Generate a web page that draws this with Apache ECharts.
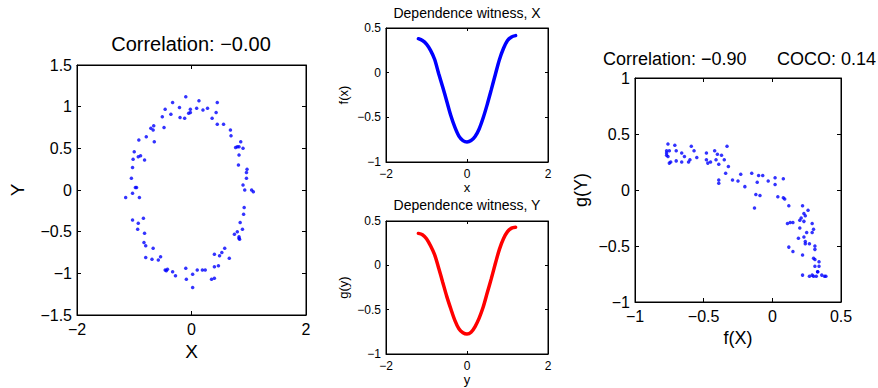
<!DOCTYPE html>
<html><head><meta charset="utf-8">
<script src="https://cdn.jsdelivr.net/npm/echarts@6/dist/echarts.min.js"></script>
<style>html,body{margin:0;padding:0;background:#fff}#c{width:878px;height:388px}</style>
</head><body><div id="c"></div>
<script>
// ---- Left panel: raw sample (X, Y) ----
const ellipseX = [-0.10,0.13,0.45,-0.33,-0.46,-0.21,-0.02,0.09,0.20,0.28,0.43,-0.36,-0.05,-0.02,-0.20,-0.12,-0.51,0.36,0.45,0.56,-0.66,-0.71,-0.67,-0.48,0.68,0.69,-0.79,-0.92,-0.65,0.86,0.77,0.80,0.83,0.90,-1.00,-0.89,-0.93,-0.82,-1.02,0.83,0.82,-1.03,0.97,0.96,0.96,-1.05,-0.98,-0.96,0.90,0.93,1.05,1.08,-1.15,-1.03,-0.91,0.92,0.91,-1.03,-0.84,-0.93,0.85,-0.94,0.89,-0.82,0.75,0.80,0.83,0.84,0.83,-0.83,-0.80,-0.67,0.58,0.53,0.49,0.40,0.66,-0.80,-0.69,-0.58,-0.54,-0.46,-0.42,-0.44,-0.33,-0.28,-0.10,0.10,0.19,0.24,0.47,0.40,-0.09,0.02,0.35,0.40,0.02];
const ellipseY = [1.12,1.07,1.05,1.05,0.97,0.99,0.97,0.98,0.96,0.98,0.93,0.91,0.92,0.93,0.87,0.86,0.88,0.86,0.79,0.79,0.77,0.74,0.72,0.75,0.72,0.65,0.64,0.60,0.58,0.58,0.51,0.52,0.52,0.50,0.46,0.41,0.40,0.36,0.37,0.42,0.30,0.27,0.25,0.21,0.14,0.14,0.03,0.03,0.06,0.00,0.00,-0.02,-0.09,-0.04,-0.09,-0.21,-0.29,-0.36,-0.34,-0.40,-0.39,-0.47,-0.47,-0.52,-0.53,-0.50,-0.56,-0.59,-0.58,-0.63,-0.67,-0.70,-0.70,-0.75,-0.79,-0.77,-0.82,-0.81,-0.83,-0.84,-0.80,-0.96,-0.95,-0.97,-0.98,-1.03,-0.94,-0.96,-0.96,-0.96,-0.91,-0.92,-1.07,-1.01,-1.07,-1.06,-1.17];

// ---- Middle panels: dependence witnesses ----
const witnessGrid = [-1.2,-1.1,-1.0,-0.9,-0.8,-0.7,-0.6,-0.5,-0.4,-0.3,-0.2,-0.1,0,0.1,0.2,0.3,0.4,0.5,0.6,0.7,0.8,0.9,1.0,1.1,1.2];
const fValues = [0.38,0.36,0.32,0.25,0.15,-0.01,-0.16,-0.32,-0.48,-0.61,-0.71,-0.76,-0.775,-0.76,-0.715,-0.63,-0.505,-0.355,-0.19,-0.02,0.145,0.27,0.36,0.40,0.415];
const gValues = [0.36,0.345,0.30,0.22,0.12,-0.03,-0.19,-0.35,-0.49,-0.62,-0.715,-0.76,-0.775,-0.755,-0.69,-0.595,-0.47,-0.31,-0.15,0.02,0.18,0.30,0.38,0.42,0.43];

// ---- Right panel: transformed sample (f(X), g(Y)) ----
const fX = [-0.76,-0.77,-0.77,-0.77,-0.76,-0.75,-0.75,-0.74,-0.71,-0.70,-0.70,-0.66,-0.66,-0.64,-0.61,-0.59,-0.60,-0.57,-0.55,-0.48,-0.48,-0.47,-0.45,-0.42,-0.41,-0.40,-0.39,-0.39,-0.39,-0.37,-0.35,-0.33,-0.32,-0.34,-0.29,-0.25,-0.23,-0.20,-0.15,-0.13,-0.12,-0.10,-0.11,-0.09,-0.07,-0.03,0.02,0.02,0.04,0.08,0.08,0.09,0.12,0.11,0.13,0.15,0.12,0.15,0.19,0.20,0.20,0.21,0.22,0.23,0.23,0.23,0.24,0.24,0.24,0.25,0.26,0.27,0.22,0.22,0.29,0.30,0.29,0.31,0.31,0.30,0.31,0.34,0.31,0.34,0.33,0.33,0.27,0.29,0.30,0.32,0.36,0.38,0.39];
const gY = [0.41,0.35,0.33,0.31,0.30,0.35,0.24,0.25,0.40,0.35,0.26,0.25,0.33,0.30,0.25,0.39,0.27,0.35,0.29,0.33,0.27,0.24,0.25,0.35,0.27,0.32,0.23,0.09,0.06,0.31,0.27,0.39,0.21,0.15,0.09,0.08,0.14,0.03,0.15,-0.16,-0.04,0.13,0.07,-0.05,0.13,0.08,0.11,0.05,-0.06,0.10,-0.07,-0.08,-0.14,-0.30,-0.29,-0.29,-0.51,-0.55,-0.43,-0.34,-0.27,-0.25,-0.14,-0.28,-0.21,-0.42,-0.23,-0.46,-0.48,-0.38,-0.18,-0.48,-0.58,-0.76,-0.30,-0.35,-0.38,-0.50,-0.53,-0.61,-0.62,-0.64,-0.68,-0.68,-0.73,-0.73,-0.77,-0.76,-0.77,-0.77,-0.76,-0.77,-0.77];

const titleLeft = 'Correlation: \u22120.00';
const titleWitX = 'Dependence witness, X';
const titleWitY = 'Dependence witness, Y';
const titleRightA = 'Correlation: \u22120.90';
const titleRightB = 'COCO: 0.14';

const FONT = 'Liberation Sans, Arial, Helvetica, sans-serif';
const INK = '#000';
const fmt = v => String(+v.toFixed(2)).replace('-', '\u2212');

function zip(a, b) { return a.map((v, i) => [v, b[i]]); }

function axesPair(kind, gi, min, max, interval, fs, name, nameGap, nameFs, tickLen) {
  const base = {
    gridIndex: gi, min, max, interval, type: 'value',
    splitLine: { show: false },
    axisLine: { show: true, onZero: false, lineStyle: { color: INK, width: 1 } },
    axisTick: { show: true, inside: true, length: tickLen, lineStyle: { color: INK } }
  };
  const main = Object.assign({}, base, {
    position: kind === 'x' ? 'bottom' : 'left',
    name, nameLocation: 'middle', nameGap,
    nameTextStyle: { color: INK, fontFamily: FONT, fontSize: nameFs },
    axisLabel: { color: INK, fontFamily: FONT, fontSize: fs, margin: kind === 'x' ? 6 : 5, formatter: fmt, showMinLabel: true, showMaxLabel: true }
  });
  const mirror = Object.assign({}, base, {
    position: kind === 'x' ? 'top' : 'right',
    axisLabel: { show: false }
  });
  return [main, mirror];
}

const grids = [
  { left: 77, top: 65, width: 229, height: 250 },
  { left: 386, top: 28, width: 162, height: 134 },
  { left: 386, top: 221, width: 162, height: 133 },
  { left: 635, top: 78, width: 206, height: 224 }
].map(g => Object.assign({ show: true, borderColor: INK, borderWidth: 1, containLabel: false }, g));

const xAxes = [].concat(
  axesPair('x', 0, -2, 2, 2, 16, 'X', 27, 19, 4),
  axesPair('x', 1, -2, 2, 2, 12, 'x', 18, 13, 3),
  axesPair('x', 2, -2, 2, 2, 12, 'y', 18, 13, 3),
  axesPair('x', 3, -1, 0.5, 0.5, 16, 'f(X)', 24, 18, 4)
);
const yAxes = [].concat(
  axesPair('y', 0, -1.5, 1.5, 0.5, 16, 'Y', 50, 19, 4),
  axesPair('y', 1, -1, 0.5, 0.5, 12, 'f(x)', 36, 13, 3),
  axesPair('y', 2, -1, 0.5, 0.5, 12, 'g(y)', 36, 13, 3),
  axesPair('y', 3, -1, 1, 0.5, 16, 'g(Y)', 45, 18, 4)
);

function titleText(text, x, y, size, align) {
  return { type: 'text', x, y, silent: true,
    style: { text, fill: INK, font: size + 'px ' + FONT, textAlign: align || 'center', textVerticalAlign: 'middle' } };
}

const option = {
  animation: false,
  backgroundColor: '#fff',
  grid: grids,
  xAxis: xAxes,
  yAxis: yAxes,
  graphic: [
    titleText(titleLeft, 191, 44, 20),
    titleText(titleWitX, 467, 13, 14),
    titleText(titleWitY, 467, 205, 14),
    titleText(titleRightA, 603, 59, 18, 'left'),
    titleText(titleRightB, 777, 59, 18, 'left')
  ],
  series: [
    { type: 'scatter', xAxisIndex: 0, yAxisIndex: 0, data: zip(ellipseX, ellipseY), symbolSize: 3.5, itemStyle: { color: '#0000ff' } },
    { type: 'line', xAxisIndex: 2, yAxisIndex: 2, data: zip(witnessGrid, fValues), smooth: 0.3, showSymbol: false, lineStyle: { color: '#0000ff', width: 3.5, cap: 'round' } },
    { type: 'line', xAxisIndex: 4, yAxisIndex: 4, data: zip(witnessGrid, gValues), smooth: 0.3, showSymbol: false, lineStyle: { color: '#ff0000', width: 3.5, cap: 'round' } },
    { type: 'scatter', xAxisIndex: 6, yAxisIndex: 6, data: zip(fX, gY), symbolSize: 3.5, itemStyle: { color: '#0000ff' } }
  ]
};

const chart = echarts.init(document.getElementById('c'), null, { renderer: 'svg' });
chart.setOption(option);
</script>
</body></html>
